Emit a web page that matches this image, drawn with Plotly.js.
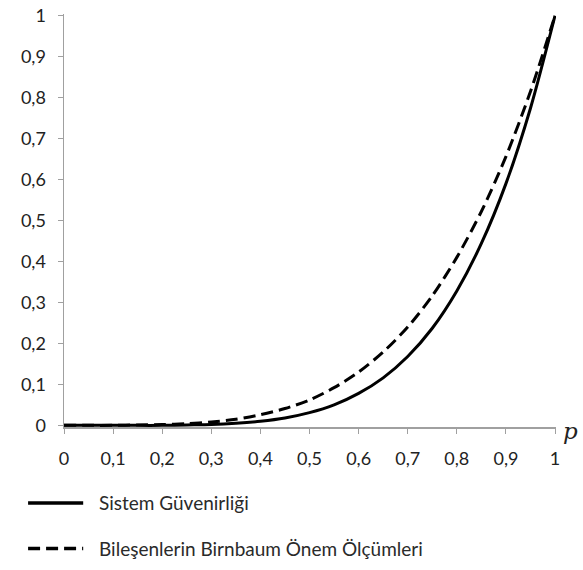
<!DOCTYPE html>
<html>
<head>
<meta charset="utf-8">
<script src="https://cdn.plot.ly/plotly-3.0.1.min.js"></script>
<style>html,body{margin:0;padding:0;background:#fff;}#chart{width:583px;height:570px;}</style>
</head>
<body>
<div id="chart"></div>
<script>
// p values (x axis)
const pValues = [0, 0.05, 0.1, 0.15, 0.2, 0.25, 0.3, 0.35, 0.4, 0.45, 0.5, 0.55, 0.6, 0.65, 0.7, 0.75, 0.8, 0.85, 0.9, 0.95, 1];
// Sistem Güvenirliği (solid)
const sistemGuvenirligi = [0, 0, 0, 0, 0, 0.001, 0.002, 0.005, 0.010, 0.018, 0.031, 0.050, 0.078, 0.116, 0.168, 0.237, 0.328, 0.444, 0.590, 0.774, 1];
// Bileşenlerin Birnbaum Önem Ölçümleri (dashed)
const birnbaumOnem = [0, 0, 0, 0.001, 0.002, 0.004, 0.008, 0.015, 0.026, 0.041, 0.062, 0.092, 0.130, 0.179, 0.240, 0.316, 0.410, 0.522, 0.656, 0.815, 1];
const seriesNames = ["Sistem Güvenirliği", "Bileşenlerin Birnbaum Önem Ölçümleri"];
const tickVals = [0, 0.1, 0.2, 0.3, 0.4, 0.5, 0.6, 0.7, 0.8, 0.9, 1];
const tickLabels = ["0", "0,1", "0,2", "0,3", "0,4", "0,5", "0,6", "0,7", "0,8", "0,9", "1"];

const font = "Lato, 'Open Sans', sans-serif";
const dashPattern = "12px,6px";
const traces = [
  {x: pValues, y: sistemGuvenirligi, name: seriesNames[0], type: "scatter", mode: "lines",
   line: {color: "#000", width: 3, shape: "spline", smoothing: 0.8}},
  {x: pValues, y: birnbaumOnem, name: seriesNames[1], type: "scatter", mode: "lines",
   line: {color: "#000", width: 3, dash: dashPattern, shape: "spline", smoothing: 0.8}}
];
const axisCommon = {
  showgrid: false, zeroline: false, showline: true, linecolor: "#a0a0a0", linewidth: 1.5,
  ticks: "outside", ticklen: 5, tickcolor: "#a0a0a0", tickwidth: 1,
  tickfont: {family: font, size: 18, color: "#222"},
  tickmode: "array", tickvals: tickVals, ticktext: tickLabels, fixedrange: true
};
// manual legend (below plot), in paper coordinates
const legendRows = [-0.184, -0.294];
const shapes = legendRows.map((yy, i) => ({
  type: "line", xref: "paper", yref: "paper", x0: -0.073, x1: 0.039, y0: yy, y1: yy,
  line: {color: "#000", width: 3.5, dash: i === 0 ? "solid" : dashPattern}
}));
const annotations = legendRows.map((yy, i) => ({
  xref: "paper", yref: "paper", x: 0.067, y: yy, xanchor: "left", yanchor: "middle",
  showarrow: false, text: seriesNames[i], font: {family: font, size: 19, color: "#2a2a2a"}
}));
annotations.push({
  xref: "paper", yref: "paper", x: 1, y: 0, xanchor: "left", yanchor: "middle",
  xshift: 5, yshift: -4, showarrow: false, text: "<i>p</i>",
  font: {family: "'DejaVu Serif', 'Liberation Serif', serif", size: 23, color: "#222"}
});
const layout = {
  width: 583, height: 570,
  margin: {l: 64, r: 27, t: 14, b: 143},
  paper_bgcolor: "#fff", plot_bgcolor: "#fff",
  separators: ", ",
  showlegend: false,
  xaxis: Object.assign({}, axisCommon, {range: [0, 1.002], ticklabelstandoff: 10}),
  yaxis: Object.assign({}, axisCommon, {range: [-0.004, 1.004], ticklabelstandoff: 8}),
  shapes: shapes,
  annotations: annotations
};
Plotly.newPlot("chart", traces, layout, {displayModeBar: false, staticPlot: true});
</script>
</body>
</html>
